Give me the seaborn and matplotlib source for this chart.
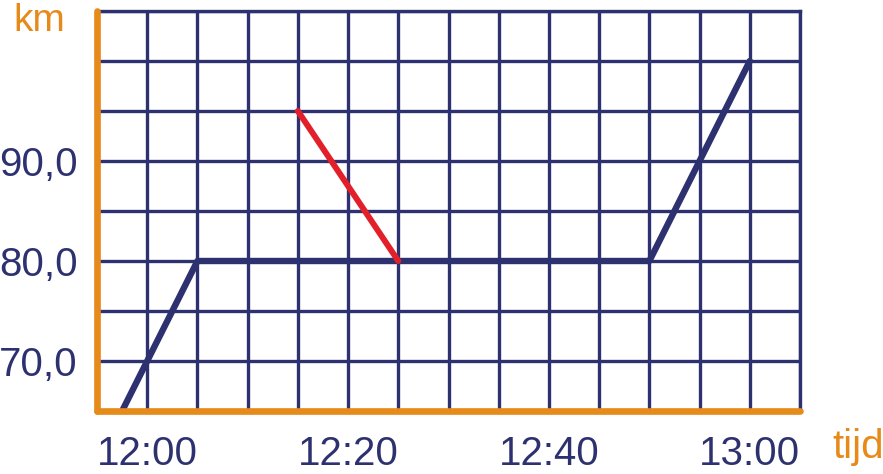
import pandas as pd
import matplotlib
matplotlib.use("Agg")
import matplotlib.pyplot as plt
import seaborn as sns

# minutes after 12:00 and distance in km
rit_tijd = [-2.5, 5, 50, 60]
rit_km = [65, 80, 80, 100]
rood_tijd = [15, 25]
rood_km = [95, 80]

x_ticks = list(range(-5, 66, 5))
x_labels = {0: "12:00", 20: "12:20", 40: "12:40", 60: "13:00"}
y_ticks = list(range(65, 106, 5))
y_labels = {70: "70,0", 80: "80,0", 90: "90,0"}

navy = "#2e3170"
orange = "#e68a1a"
red = "#e2202a"

sns.set_style("white")
plt.rcParams["font.family"] = ["Liberation Sans", "DejaVu Sans"]

rit = pd.DataFrame({"tijd": rit_tijd, "km": rit_km})
rood = pd.DataFrame({"tijd": rood_tijd, "km": rood_km})

fig = plt.figure(figsize=(8.83, 4.74), dpi=100)
ax = fig.add_axes([97 / 883, 63 / 474, 703 / 883, 400 / 474])

sns.lineplot(data=rit, x="tijd", y="km", color=navy, linewidth=4.6,
             sort=False, ax=ax, zorder=3)
sns.lineplot(data=rood, x="tijd", y="km", color=red, linewidth=4.3,
             sort=False, ax=ax, zorder=4)

ax.set_xlim(-5, 65)
ax.set_ylim(65, 105)
ax.set_xticks(x_ticks)
ax.set_xticklabels([x_labels.get(t, "") for t in x_ticks])
ax.set_yticks(y_ticks)
ax.set_yticklabels([y_labels.get(t, "") for t in y_ticks])
ax.tick_params(length=0, labelsize=29, colors=navy)
ax.tick_params(axis="x", pad=17)
ax.tick_params(axis="y", pad=14)
ax.grid(True, color=navy, linewidth=2.4)
ax.set_axisbelow(True)
ax.set_xlabel("")
ax.set_ylabel("")

for side in ["top", "right"]:
    ax.spines[side].set_color(navy)
    ax.spines[side].set_linewidth(2.4)
for side in ["left", "bottom"]:
    ax.spines[side].set_color(orange)
    ax.spines[side].set_linewidth(4.8)
    ax.spines[side].set_capstyle("round")
    ax.spines[side].set_zorder(5)

fig.text(39 / 883, 1 - 3 / 474, "km", color=orange, fontsize=28,
         ha="center", va="top")
fig.text(858 / 883, 1 - 447 / 474, "tijd", color=orange, fontsize=29,
         ha="center", va="center")

fig.savefig("out.png", dpi=100)
